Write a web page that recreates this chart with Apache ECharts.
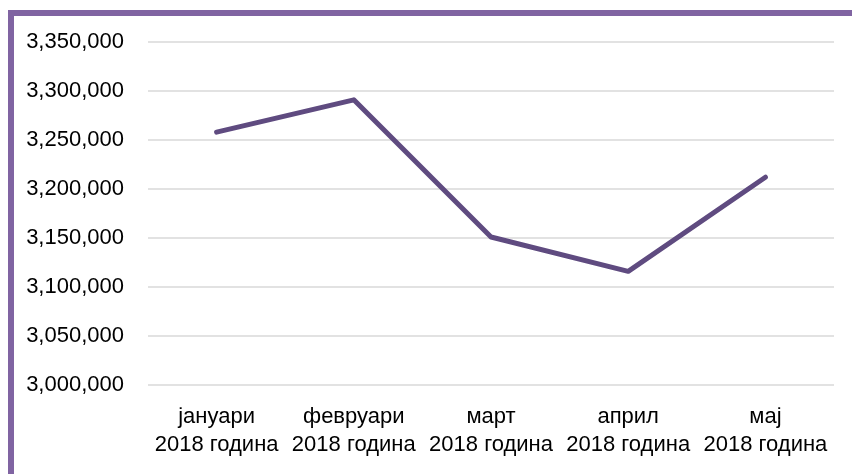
<!DOCTYPE html>
<html>
<head>
<meta charset="utf-8">
<script src="https://cdn.jsdelivr.net/npm/echarts@6/dist/echarts.min.js"></script>
<style>html,body{margin:0;padding:0;background:#fff;}#c{width:852px;height:474px;}</style>
</head>
<body>
<div id="c"></div>
<script>
const categories = ['јануари\n2018 година', 'февруари\n2018 година', 'март\n2018 година', 'април\n2018 година', 'мај\n2018 година'];
const values = [3258000, 3291000, 3151000, 3116000, 3212000];
const yMin = 3000000, yMax = 3350000, yStep = 50000;

const chart = echarts.init(document.getElementById('c'), null, {renderer: 'canvas'});
const font = 'Liberation Sans';
chart.setOption({
  animation: false,
  backgroundColor: '#ffffff',
  grid: {left: 148, right: 18, top: 42, bottom: 89, containLabel: false},
  xAxis: {
    type: 'category', data: categories, boundaryGap: true,
    axisLine: {show: false}, axisTick: {show: false},
    axisLabel: {color: '#000', fontFamily: font, fontSize: 22, lineHeight: 28, margin: 18, interval: 0}
  },
  yAxis: {
    type: 'value', min: yMin, max: yMax, interval: yStep,
    axisLine: {show: false}, axisTick: {show: false},
    splitLine: {lineStyle: {color: '#d9d9d9', width: 1.5}},
    axisLabel: {color: '#000', fontFamily: font, fontSize: 22, margin: 24,
      formatter: v => v.toLocaleString('en-US')}
  },
  series: [{
    type: 'line', data: values, showSymbol: false, symbol: 'none',
    lineStyle: {color: '#5f4b80', width: 5, cap: 'round', join: 'round'}
  }],
  graphic: [
    {type: 'rect', shape: {x: 8, y: 10, width: 844, height: 6}, style: {fill: '#8064a2'}},
    {type: 'rect', shape: {x: 8, y: 10, width: 6, height: 464}, style: {fill: '#8064a2'}}
  ]
});
</script>
</body>
</html>
